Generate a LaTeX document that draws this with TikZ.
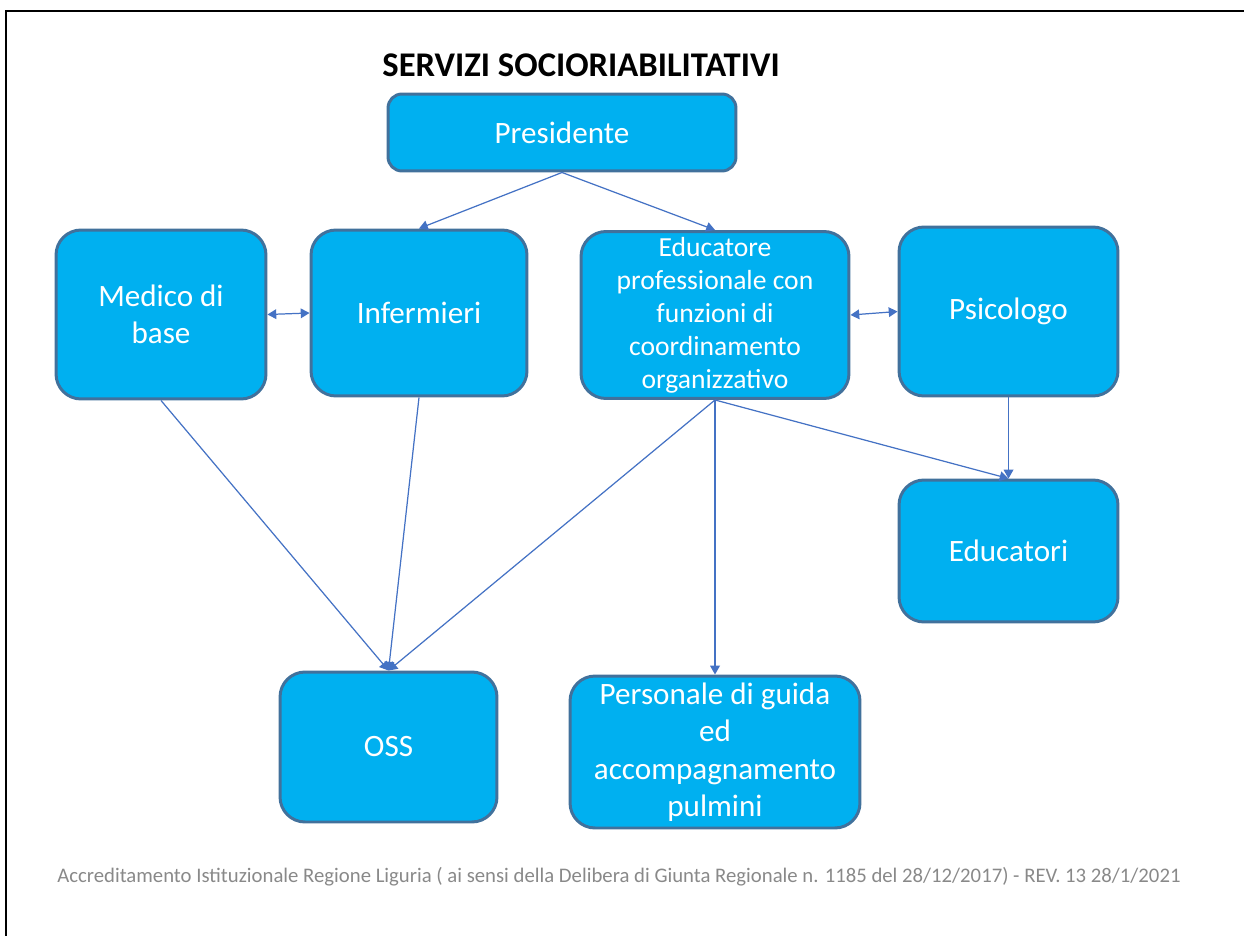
\documentclass[tikz,border=0pt]{standalone}
\usepackage{fontspec}
\setmainfont{Carlito}
\definecolor{boxBlue}{RGB}{0, 176, 240}
\definecolor{borderBlue}{RGB}{65, 113, 156}
\definecolor{lineBlue}{RGB}{68, 114, 196}
\definecolor{footGray}{RGB}{137, 137, 137}
\usepackage{tikz}
\usetikzlibrary{positioning,arrows.meta}

\begin{document}
\begin{tikzpicture}[x=0.02cm,y=-0.02cm,
    box/.style={draw=borderBlue,line width=1.7pt,fill=boxBlue,rounded corners=0.5cm,
        text=white,align=center,inner sep=2pt,font=\fontsize{17.7}{21.3}\selectfont},
    link/.style={lineBlue,line width=0.7pt,-{Triangle[width=5.5pt,length=5pt]}},
    both/.style={lineBlue,line width=0.7pt,{Triangle[width=5.5pt,length=5pt]}-{Triangle[width=5.5pt,length=5pt]}}]
    \useasboundingbox (0,0) rectangle (1244,936);
    
    % frame
    \draw[line width=1.4pt] (6,936) -- (6,11) -- (1244,11);
    
    \node[font=\bfseries\fontsize{19.7}{23}\selectfont] (title) at (581,65) {SERVIZI SOCIORIABILITATIVI};
    
    % boxes
    \node[box,minimum width=6.96cm,minimum height=1.54cm,rounded corners=0.28cm] (pres) at (562,132.5) {Presidente};
    \node[box,minimum width=4.2cm,minimum height=3.38cm] (medico) at (161,314.5) {Medico di\\base};
    \node[box,minimum width=4.32cm,minimum height=3.32cm] (inf) at (419,313) {Infermieri};
    \node[box,minimum width=5.36cm,minimum height=3.34cm,font=\fontsize{15.7}{18.8}\selectfont] (educ) at (715,315)
        {Educatore\\professionale con\\funzioni di\\coordinamento\\organizzativo};
    \node[box,minimum width=4.38cm,minimum height=3.38cm] (psico) at (1008.5,311.5) {Psicologo};
    \node[box,minimum width=4.38cm,minimum height=2.84cm] (educatori) at (1008.5,551) {Educatori};
    \node[box,minimum width=4.34cm,minimum height=3cm] (oss) at (388.5,747) {OSS};
    \node[box,minimum width=5.8cm,minimum height=3.04cm] (guida) at (715,752)
        {Personale di guida\\ed\\accompagnamento\\pulmini};
    
    % connectors
    \draw[link] (pres.south) -- (inf.north);
    \draw[link] (pres.south) -- (educ.north);
    \draw[both] (medico.east) -- (inf.west);
    \draw[both] (educ.east) -- (psico.west);
    \draw[link] (medico.south) -- (oss.north);
    \draw[link] (inf.south) -- (oss.north);
    \draw[link] (educ.south) -- (oss.north);
    \draw[link] (educ.south) -- (guida.north);
    \draw[link] (educ.south) -- (educatori.north);
    \draw[link] (psico.south) -- (educatori.north);
    
    \node[text=footGray,font=\fontsize{11.8}{14}\selectfont] (foot) at (619,877)
        {Accreditamento Istituzionale Regione Liguria ( ai sensi della Delibera di Giunta Regionale n. 1185 del 28/12/2017) - REV. 13 28/1/2021};
\end{tikzpicture}
\end{document}
